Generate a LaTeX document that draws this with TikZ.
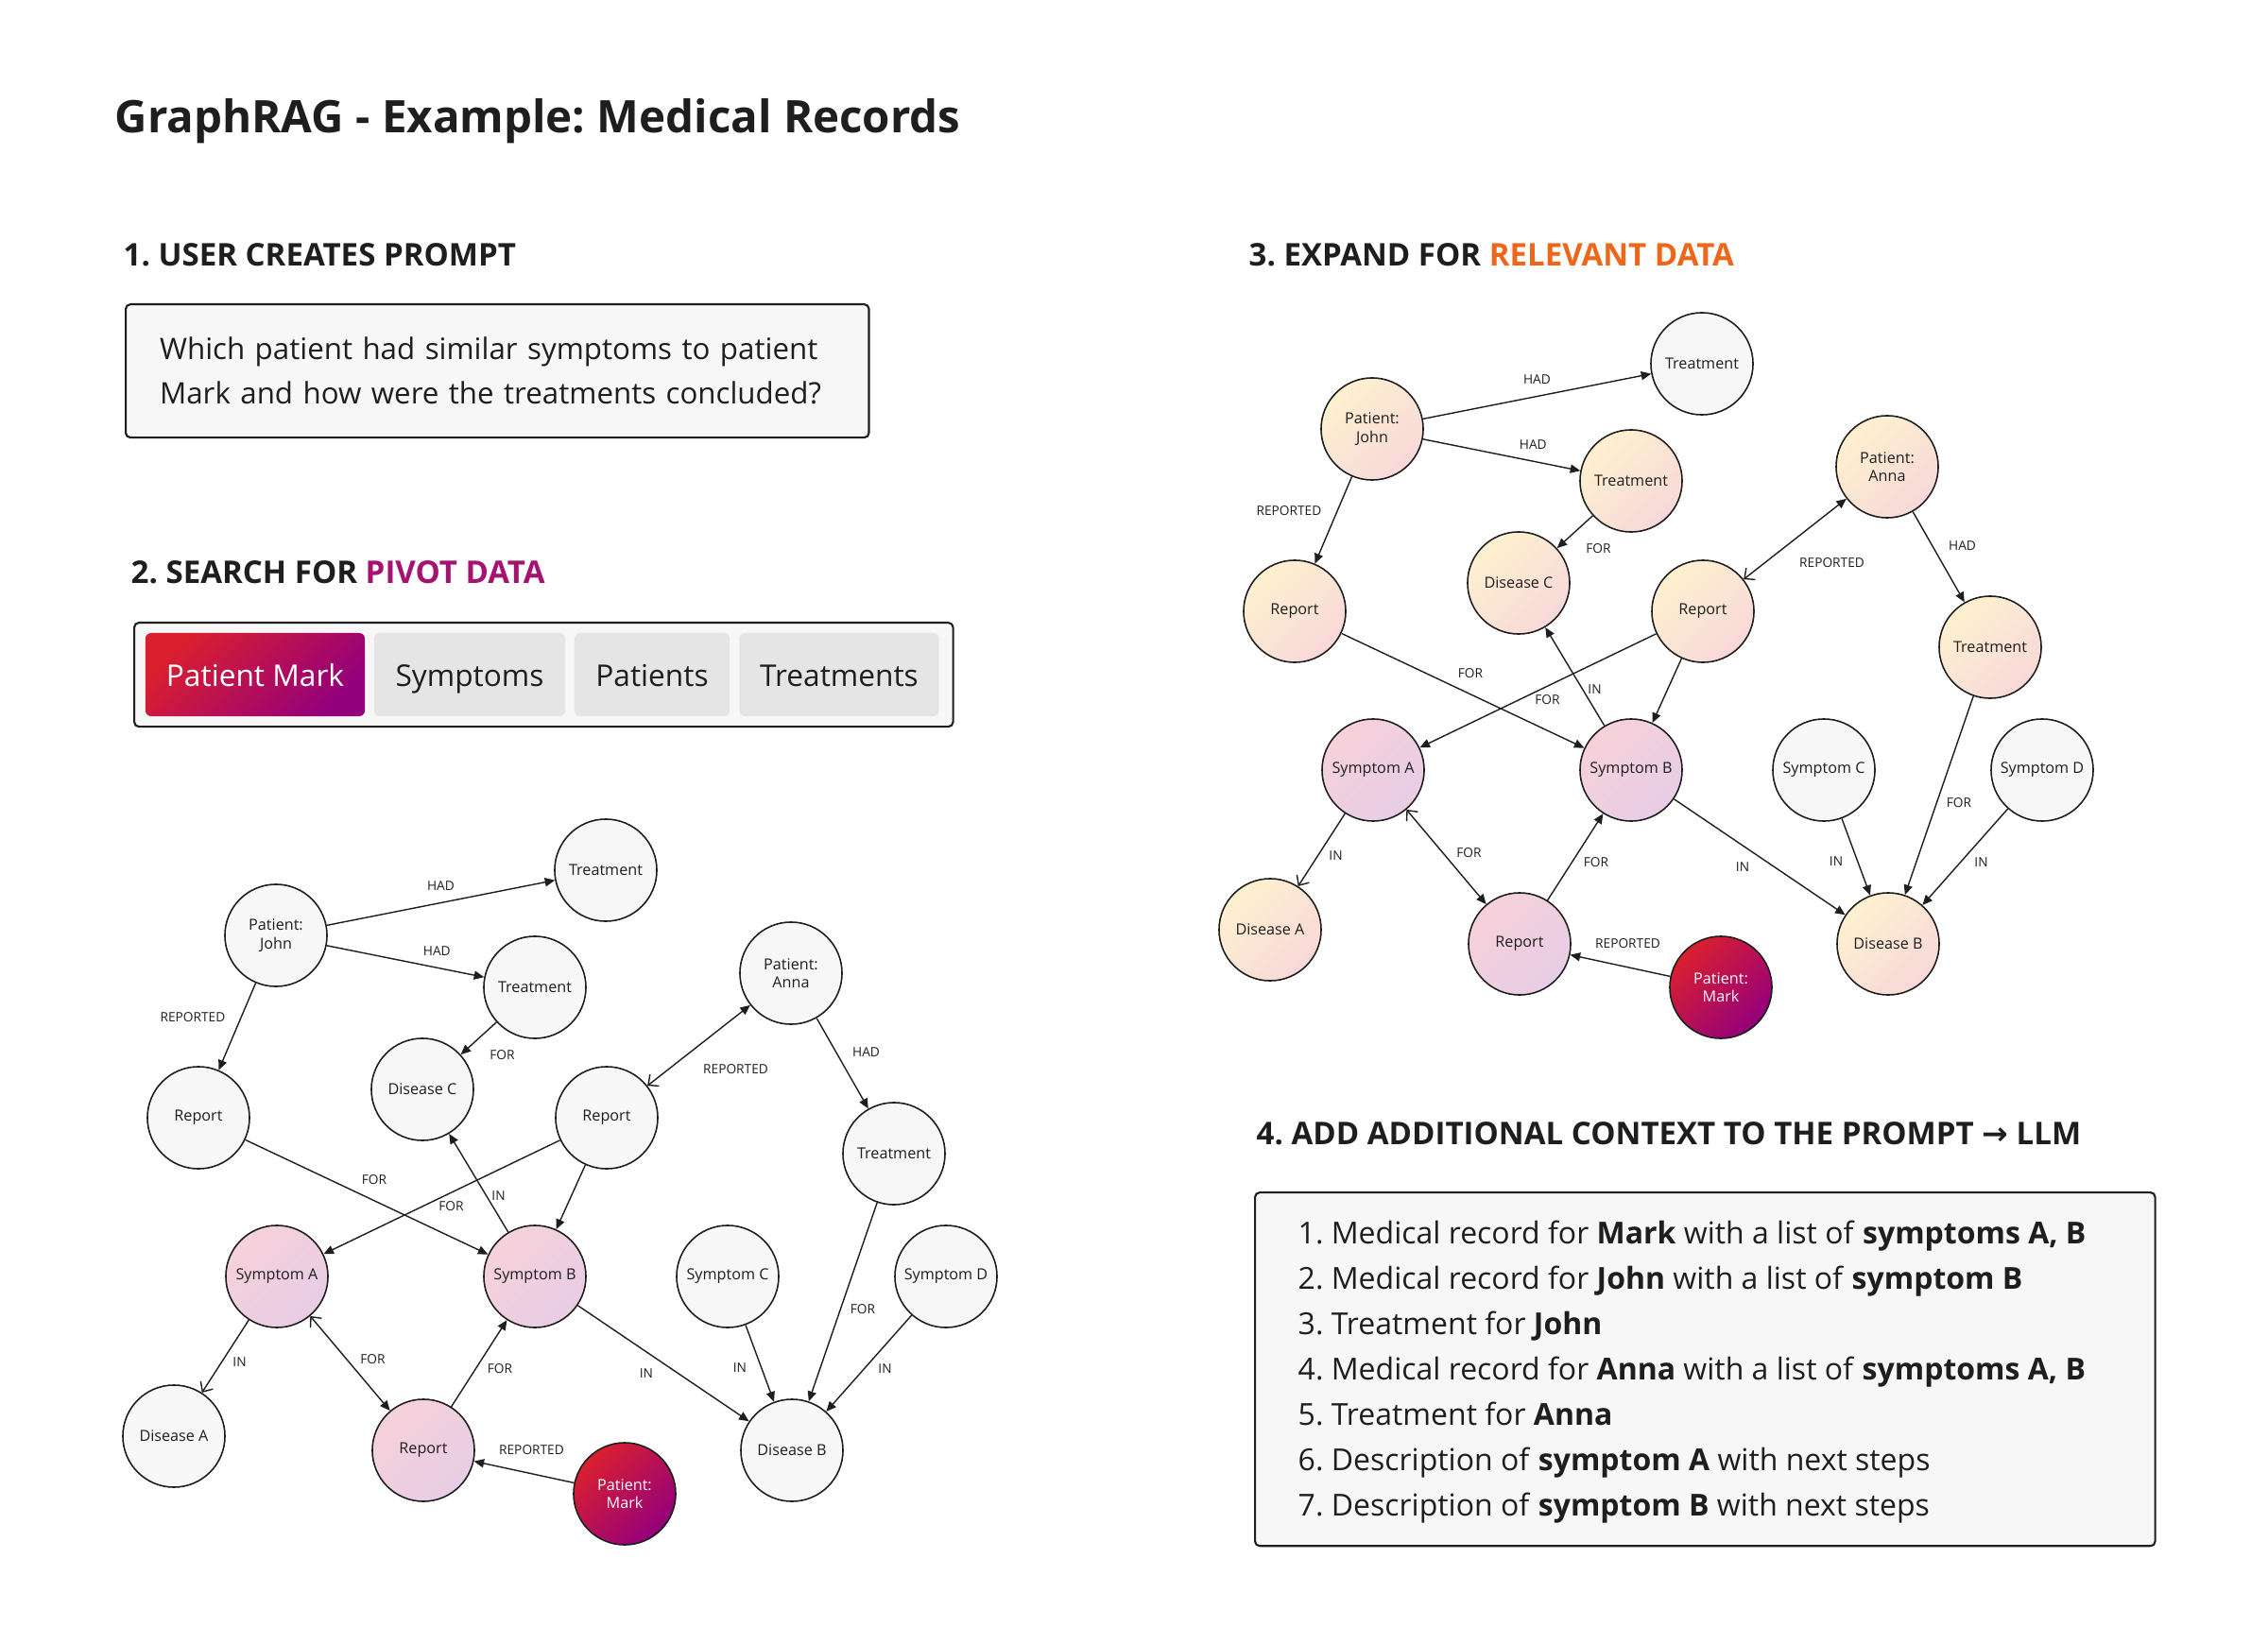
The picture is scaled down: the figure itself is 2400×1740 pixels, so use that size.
\documentclass[tikz,border=0pt]{standalone}
\usepackage{fontspec}
\setmainfont{Open Sans}
\newfontfamily\arrowfont{DejaVu Sans}
\usetikzlibrary{arrows.meta}
\frenchspacing

\definecolor{ink}{HTML}{1E1E1E}
\definecolor{paper}{HTML}{F7F7F7}
\definecolor{chipgrey}{HTML}{E5E5E5}
\definecolor{markred}{HTML}{DA1F2E}
\definecolor{markviolet}{HTML}{93007C}
\definecolor{pinkA}{HTML}{F6D1D9}
\definecolor{pinkB}{HTML}{E8CDE6}
\definecolor{creamA}{HTML}{FEF1CF}
\definecolor{creamB}{HTML}{F8D8D9}
\definecolor{pivot}{HTML}{A5126F}
\definecolor{relevant}{HTML}{EE661A}

\newcommand\medgraph{%
  \node[plainent] (TreatTop) at (641,921) {Treatment};
  \node[hitent] (John) at (292,990) {Patient:\\John};
  \node[hitent] (TreatJohn) at (566,1045) {Treatment};
  \node[hitent] (Anna) at (837,1030) {Patient:\\Anna};
  \node[hitent] (RepJohn) at (210,1183) {Report};
  \node[hitent] (DisC) at (447,1153) {Disease C};
  \node[hitent] (RepAnna) at (642,1183) {Report};
  \node[hitent] (TreatAnna) at (946,1221) {Treatment};
  \node[pivotent] (SymA) at (293,1351) {Symptom A};
  \node[pivotent] (SymB) at (566,1351) {Symptom B};
  \node[plainent] (SymC) at (770,1351) {Symptom C};
  \node[plainent] (SymD) at (1001,1351) {Symptom D};
  \node[hitent] (DisA) at (184,1520) {Disease A};
  \node[pivotent] (RepMark) at (448,1535) {Report};
  \node[hitent] (DisB) at (838,1535) {Disease B};
  \node[markent] (Mark) at (661,1581) {Patient:\\Mark};
  \draw[link] (John) -- node[lbl, yshift=0.18cm] {HAD} (TreatTop);
  \draw[link] (John) -- node[lbl, pos=0.7, yshift=0.18cm] {HAD} (TreatJohn);
  \draw[link] (John) -- node[lbl, xshift=-0.47cm, yshift=0.1cm] {REPORTED} (RepJohn);
  \draw[link] (TreatJohn) -- node[lbl, xshift=0.25cm, yshift=-0.18cm] {FOR} (DisC);
  \draw[twolink] (RepAnna) -- node[lbl, xshift=0.39cm, yshift=-0.25cm] {REPORTED} (Anna);
  \draw[link] (Anna) -- node[lbl, xshift=0.25cm, yshift=0.12cm] {HAD} (TreatAnna);
  \draw[link] (RepJohn) -- node[lbl, xshift=0.08cm, yshift=0.18cm] {FOR} (SymB);
  \draw[link] (RepAnna) -- node[lbl, xshift=0.1cm, yshift=-0.1cm] {FOR} (SymA);
  \draw[link] (SymB) -- node[lbl, xshift=0.21cm, yshift=-0.14cm] {IN} (DisC);
  \draw[link] (RepAnna) -- (SymB);
  \draw[openlink] (SymA) -- node[lbl, xshift=0.15cm, yshift=-0.06cm] {IN} (DisA);
  \draw[twolink] (SymA) -- node[lbl, xshift=0.24cm, yshift=0.04cm] {FOR} (RepMark);
  \draw[link] (RepMark) -- node[lbl, xshift=0.22cm, yshift=-0.06cm] {FOR} (SymB);
  \draw[link] (SymB) -- node[lbl, xshift=-0.18cm, yshift=-0.11cm] {IN} (DisB);
  \draw[link] (SymC) -- node[lbl, xshift=-0.21cm, yshift=-0.05cm] {IN} (DisB);
  \draw[link] (TreatAnna) -- node[lbl, xshift=0.21cm, yshift=-0.08cm] {FOR} (DisB);
  \draw[link] (SymD) -- node[lbl, xshift=0.17cm, yshift=-0.06cm] {IN} (DisB);
  \draw[link] (Mark) -- node[lbl, xshift=0.08cm, yshift=0.23cm] {REPORTED} (RepMark);
}

\begin{document}
\begin{tikzpicture}[x=0.01cm, y=-0.01cm,
  entity/.style={circle, draw=ink, line width=0.45pt, minimum size=1.08cm,
    inner sep=0pt, align=center, text=ink, font=\fontsize{4.6}{5.6}\selectfont},
  plainent/.style={entity, fill=paper},
  hitent/.style={plainent},
  pivotent/.style={entity, left color=pinkA, right color=pinkB, shading angle=45},
  markent/.style={entity, left color=markred, right color=markviolet,
    shading angle=45, text=white},
  link/.style={draw=ink, line width=0.4pt, -{Triangle[length=3pt,width=2.6pt]}},
  openlink/.style={draw=ink, line width=0.4pt, -{Straight Barb[length=2.4pt,width=4.4pt]}},
  twolink/.style={draw=ink, line width=0.4pt,
    {Straight Barb[length=2.4pt,width=4.4pt]}-{Triangle[length=3pt,width=2.6pt]}},
  lbl/.style={text=ink, inner sep=0pt, font=\fontsize{3.9}{4.5}\selectfont},
  heading/.style={anchor=base west, inner sep=0pt, text=ink,
    font=\fontsize{9.4}{11}\selectfont\bfseries},
  chip/.style={rounded corners=0.06cm, fill=chipgrey, minimum height=0.88cm,
    inner sep=0pt, text height=0.95em, text depth=0.23em, text=ink,
    font=\fontsize{9}{11}\selectfont},
  card/.style={draw=ink, line width=0.6pt, rounded corners=0.05cm, fill=paper,
    anchor=north west, align=left, text=ink}]
\useasboundingbox (0,0) rectangle (2400,1740);

\node[anchor=base west, inner sep=0pt, text=ink, font=\fontsize{13.5}{15}\selectfont\bfseries] (title) at (121,141) {GraphRAG - Example: Medical Records};

\node[heading] (stepone) at (130,282) {1. USER CREATES PROMPT};
\node[card, minimum height=1.41cm, text width=7.14cm, inner xsep=0.36cm,
  font=\fontsize{8.9}{13.4}\selectfont] (prompt) at (132,321)
  {Which patient had similar symptoms to patient\\Mark and how were the treatments concluded?};

\node[heading] (steptwo) at (138,618) {2. SEARCH FOR \textcolor{pivot}{PIVOT DATA}};
\node[card, minimum width=8.66cm, minimum height=1.1cm] (search) at (141,658) {};
\node[chip, minimum width=2.32cm, left color=markred, right color=markviolet,
  shading angle=45, text=white] (chipMark) at (270,714) {Patient Mark};
\node[chip, minimum width=2.02cm] (chipSym) at (497,714) {Symptoms};
\node[chip, minimum width=1.64cm] (chipPat) at (690,714) {Patients};
\node[chip, minimum width=2.11cm] (chipTreat) at (888,714) {Treatments};

\begin{scope}[name prefix=pivot-]
  \medgraph
\end{scope}

\node[heading] (stepthree) at (1321,282) {3. EXPAND FOR \textcolor{relevant}{RELEVANT DATA}};
\begin{scope}[shift={(1160,-536)}, name prefix=expand-,
  hitent/.style={entity, left color=creamA, right color=creamB, shading angle=45}]
  \medgraph
\end{scope}

\node[heading] (stepfour) at (1329,1211) {4. ADD ADDITIONAL CONTEXT TO THE PROMPT {\arrowfont\bfseries →} LLM};
\node[card, minimum width=9.52cm, minimum height=3.74cm] (context) at (1327,1261) {};
\node[anchor=west, align=left, inner sep=0pt, text=ink,
  font=\fontsize{9.1}{13.66}\selectfont] (contextlist) at (1373,1452) {%
  1. Medical record for \textbf{Mark} with a list of \textbf{symptoms A, B}\\
  2. Medical record for \textbf{John} with a list of \textbf{symptom B}\\
  3. Treatment for \textbf{John}\\
  4. Medical record for \textbf{Anna} with a list of \textbf{symptoms A, B}\\
  5. Treatment for \textbf{Anna}\\
  6. Description of \textbf{symptom A} with next steps\\
  7. Description of \textbf{symptom B} with next steps};
\end{tikzpicture}
\end{document}
